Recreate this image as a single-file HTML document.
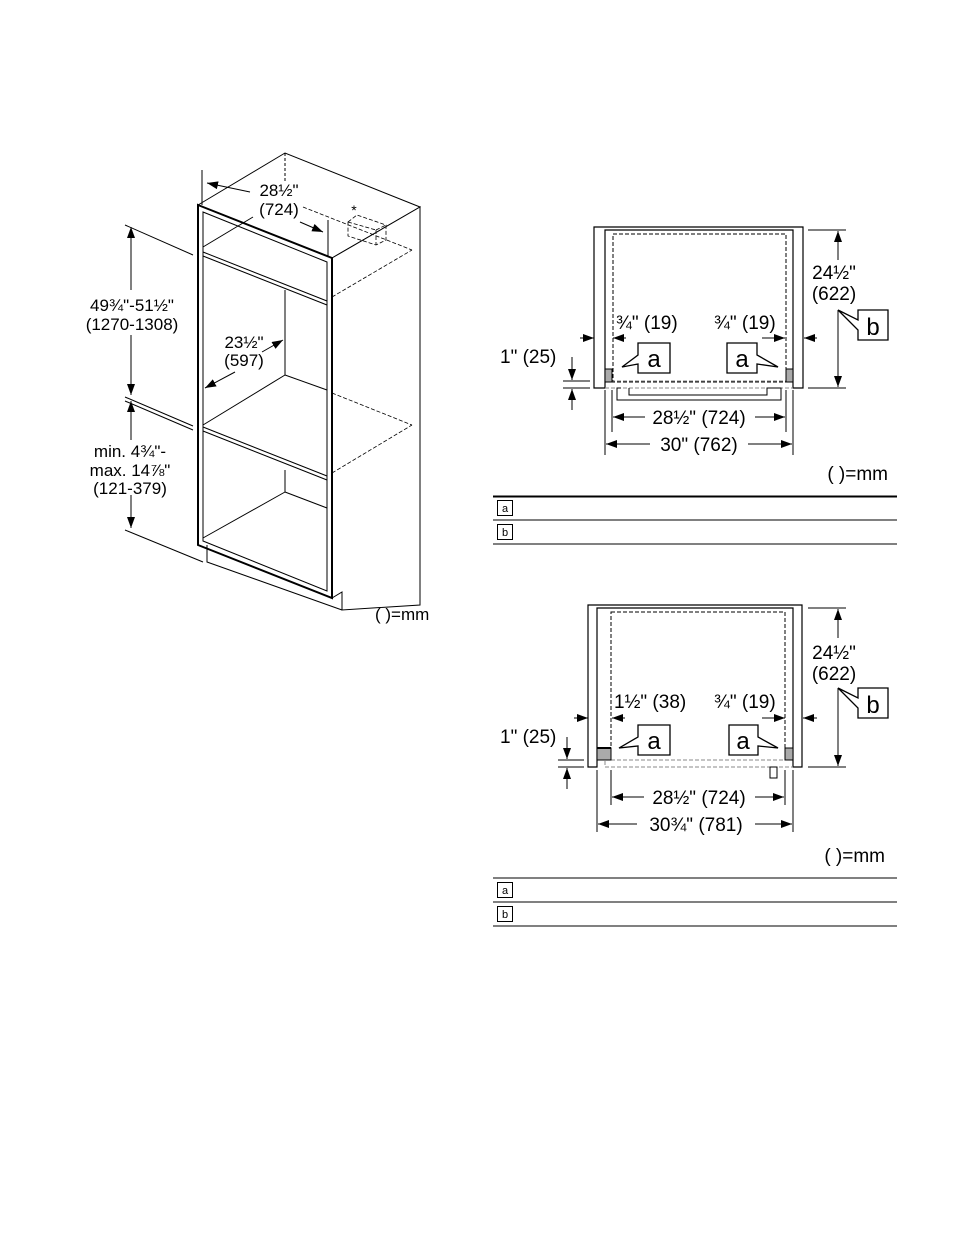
<!DOCTYPE html>
<html><head><meta charset="utf-8"><style>
html,body{margin:0;padding:0;background:#fff}
svg{display:block}
text{font-family:"Liberation Sans",sans-serif;fill:#000}
</style></head><body>
<svg width="954" height="1235" viewBox="0 0 954 1235" xmlns="http://www.w3.org/2000/svg">
<defs>
<marker id="ar" viewBox="0 0 11 8" refX="11" refY="4" markerWidth="11" markerHeight="8" markerUnits="userSpaceOnUse" orient="auto"><path d="M0,0 L11,4 L0,8 z" fill="#000"/></marker>
</defs>
<g fill="none" stroke="#000" stroke-width="1">
<!-- LEFT CABINET -->
<polygon points="198,205 285,153 420,207 332,258" fill="#fff"/>
<polygon points="332,258 420,207 420,605 342,610 342,592 332,598" fill="#fff"/>
<polygon points="198,205 332,258 332,598 198,545" stroke-width="2"/>
<polygon points="203,212 327,262 327,591 203,541"/>
<polyline points="207,545 207,562 342,610"/>
<line x1="285" y1="153" x2="285" y2="183" stroke-dasharray="3,2"/>
<line x1="203" y1="252" x2="327" y2="301"/><line x1="203" y1="256" x2="327" y2="305"/>
<line x1="203" y1="427" x2="327" y2="476"/><line x1="203" y1="431" x2="327" y2="480"/>
<line x1="203" y1="247" x2="253" y2="217"/>
<line x1="285" y1="290" x2="285" y2="375"/>
<line x1="203" y1="425" x2="285" y2="375"/><line x1="285" y1="375" x2="327" y2="390"/>
<line x1="285" y1="470" x2="285" y2="492"/>
<line x1="203" y1="538" x2="285" y2="492"/><line x1="285" y1="492" x2="327" y2="508"/>
<g stroke-dasharray="4,2" stroke-width="0.8">
<line x1="332" y1="297" x2="412" y2="250"/>
<line x1="303" y1="207" x2="412" y2="250"/>
<line x1="332" y1="393" x2="412" y2="425"/>
<line x1="332" y1="473" x2="412" y2="425"/>
<polygon points="348,222 357,215 386,225 386,240 376,245 348,236"/>
<line x1="348" y1="222" x2="376" y2="230"/><line x1="376" y1="230" x2="386" y2="225"/><line x1="376" y1="230" x2="376" y2="245"/>
</g>
<line x1="202" y1="170" x2="202" y2="205"/>
<line x1="328" y1="220" x2="328" y2="257"/>
<line x1="250" y1="192" x2="207" y2="183" marker-end="url(#ar)"/>
<line x1="300" y1="222" x2="323" y2="232" marker-end="url(#ar)"/>
<line x1="125" y1="225" x2="193" y2="255"/>
<line x1="125" y1="397" x2="193" y2="426"/><line x1="125" y1="401" x2="193" y2="430"/>
<line x1="125" y1="530" x2="203" y2="562"/>
<line x1="131" y1="290" x2="131" y2="227" marker-end="url(#ar)"/>
<line x1="131" y1="335" x2="131" y2="395" marker-end="url(#ar)"/>
<line x1="131" y1="440" x2="131" y2="401" marker-end="url(#ar)"/>
<line x1="131" y1="495" x2="131" y2="528" marker-end="url(#ar)"/>
<line x1="235" y1="372" x2="205" y2="388" marker-end="url(#ar)"/>
<line x1="262" y1="352" x2="283" y2="340" marker-end="url(#ar)"/>
</g>
<g font-size="17" text-anchor="middle">
<text x="279" y="196">28½"</text><text x="279" y="215">(724)</text>
<text x="132" y="311">49¾"-51½"</text><text x="132" y="330">(1270-1308)</text>
<text x="244" y="348">23½"</text><text x="244" y="366">(597)</text>
<text x="130" y="457">min. 4¾"-</text><text x="130" y="476">max. 14⅞"</text><text x="130" y="494">(121-379)</text>
<text x="354" y="215" font-size="14">*</text>
<text x="375" y="620" text-anchor="start">( )=mm</text>
</g>

<!-- RIGHT TOP -->
<g fill="none" stroke="#000" stroke-width="1">
<path d="M594,388 L594,227 L803,227 L803,388 L793,388 L793,230 L605,230 L605,388 Z" stroke-width="1.2"/>
<rect x="613" y="234" width="173" height="148" stroke-dasharray="4,2"/>
<line x1="605" y1="381" x2="793" y2="381" stroke="#888" stroke-dasharray="4,2"/>
<line x1="605" y1="388" x2="793" y2="388" stroke="#888" stroke-dasharray="4,2"/>
<rect x="605" y="369" width="7" height="13" fill="#aaa"/>
<rect x="786" y="369" width="7" height="13" fill="#aaa"/>
<polyline points="621,388 617,388 617,400 781,400 781,388 767,388 767,395 629,395 629,388"/>
<line x1="605" y1="390" x2="605" y2="455"/><line x1="793" y1="390" x2="793" y2="455"/>
<line x1="612" y1="390" x2="612" y2="432"/><line x1="786" y1="390" x2="786" y2="432"/>
<line x1="645" y1="417" x2="613" y2="417" marker-end="url(#ar)"/><line x1="755" y1="417" x2="785" y2="417" marker-end="url(#ar)"/>
<line x1="650" y1="444" x2="606" y2="444" marker-end="url(#ar)"/><line x1="748" y1="444" x2="792" y2="444" marker-end="url(#ar)"/>
<line x1="808" y1="230" x2="846" y2="230"/><line x1="808" y1="388" x2="846" y2="388"/>
<line x1="838" y1="260" x2="838" y2="231" marker-end="url(#ar)"/><line x1="838" y1="310" x2="838" y2="387" marker-end="url(#ar)"/>
<line x1="580" y1="338" x2="594" y2="338" marker-end="url(#ar)"/><line x1="626" y1="338" x2="613" y2="338" marker-end="url(#ar)"/>
<line x1="762" y1="338" x2="785" y2="338" marker-end="url(#ar)"/><line x1="817" y1="338" x2="804" y2="338" marker-end="url(#ar)"/>
<line x1="563" y1="381" x2="590" y2="381"/><line x1="563" y1="388" x2="590" y2="388"/>
<line x1="572" y1="357" x2="572" y2="380" marker-end="url(#ar)"/><line x1="572" y1="410" x2="572" y2="389" marker-end="url(#ar)"/>
<path d="M638,343 L670,343 L670,373 L638,373 L638,364 L622,367 L638,355 Z" fill="#fff" stroke-width="1.3"/>
<path d="M727,343 L757,343 L757,355 L778,367 L757,364 L757,373 L727,373 Z" fill="#fff" stroke-width="1.3"/>
<path d="M858,310 L888,310 L888,340 L858,340 L858,330 L838,310 L858,320 Z" fill="#fff" stroke-width="1.3"/>
<line x1="493" y1="496.5" x2="897" y2="496.5" stroke-width="2"/>
<line x1="493" y1="520" x2="897" y2="520"/><line x1="493" y1="544" x2="897" y2="544"/>
<rect x="497.5" y="500.5" width="15" height="15"/><rect x="497.5" y="524.5" width="15" height="15"/>
</g>
<g font-size="19">
<text x="654" y="367" font-size="24" text-anchor="middle">a</text>
<text x="742" y="367" font-size="24" text-anchor="middle">a</text>
<text x="873" y="335" font-size="24" text-anchor="middle">b</text>
<text x="616" y="329">¾" (19)</text><text x="714" y="329">¾" (19)</text>
<text x="500" y="363">1" (25)</text>
<text x="699" y="424" text-anchor="middle">28½" (724)</text>
<text x="699" y="451" text-anchor="middle">30" (762)</text>
<text x="834" y="279" text-anchor="middle">24½"</text><text x="834" y="300" text-anchor="middle">(622)</text>
<text x="888" y="480" text-anchor="end">( )=mm</text>
<text x="502" y="512" font-size="11">a</text><text x="502" y="536" font-size="11">b</text>
</g>

<!-- RIGHT BOTTOM -->
<g fill="none" stroke="#000" stroke-width="1">
<path d="M588,767 L588,605 L802,605 L802,767 L793,767 L793,608 L597,608 L597,767 Z" stroke-width="1.2"/>
<rect x="611" y="612" width="174" height="148" stroke-dasharray="4,2"/>
<line x1="611" y1="760" x2="785" y2="760" stroke="#888" stroke-dasharray="4,2"/>
<polyline points="605,761 605,767 793,767" stroke="#888" stroke-dasharray="4,2"/>
<rect x="597" y="748" width="14" height="12" fill="#aaa"/><line x1="597" y1="748" x2="611" y2="748" stroke-width="2"/>
<rect x="785" y="748" width="8" height="12" fill="#aaa"/>
<rect x="770" y="767" width="7" height="11"/>
<line x1="597" y1="770" x2="597" y2="832"/><line x1="793" y1="770" x2="793" y2="832"/>
<line x1="611" y1="770" x2="611" y2="805"/><line x1="785" y1="770" x2="785" y2="805"/>
<line x1="644" y1="797" x2="612" y2="797" marker-end="url(#ar)"/><line x1="755" y1="797" x2="784" y2="797" marker-end="url(#ar)"/>
<line x1="637" y1="824" x2="598" y2="824" marker-end="url(#ar)"/><line x1="755" y1="824" x2="792" y2="824" marker-end="url(#ar)"/>
<line x1="808" y1="608" x2="846" y2="608"/><line x1="808" y1="767" x2="846" y2="767"/>
<line x1="838" y1="638" x2="838" y2="609" marker-end="url(#ar)"/><line x1="838" y1="688" x2="838" y2="766" marker-end="url(#ar)"/>
<line x1="574" y1="718" x2="588" y2="718" marker-end="url(#ar)"/><line x1="625" y1="718" x2="612" y2="718" marker-end="url(#ar)"/>
<line x1="762" y1="718" x2="785" y2="718" marker-end="url(#ar)"/><line x1="817" y1="718" x2="803" y2="718" marker-end="url(#ar)"/>
<line x1="558" y1="760" x2="584" y2="760"/><line x1="558" y1="767" x2="584" y2="767"/>
<line x1="567" y1="737" x2="567" y2="759" marker-end="url(#ar)"/><line x1="567" y1="789" x2="567" y2="768" marker-end="url(#ar)"/>
<path d="M638,725 L670,725 L670,755 L638,755 L638,746 L619,748 L638,737 Z" fill="#fff" stroke-width="1.3"/>
<path d="M729,725 L758,725 L758,737 L778,748 L758,746 L758,755 L729,755 Z" fill="#fff" stroke-width="1.3"/>
<path d="M858,688 L888,688 L888,718 L858,718 L858,708 L838,688 L858,698 Z" fill="#fff" stroke-width="1.3"/>
<line x1="493" y1="878" x2="897" y2="878"/>
<line x1="493" y1="902" x2="897" y2="902"/><line x1="493" y1="926" x2="897" y2="926"/>
<rect x="497.5" y="882.5" width="15" height="15"/><rect x="497.5" y="906.5" width="15" height="15"/>
</g>
<g font-size="19">
<text x="654" y="749" font-size="24" text-anchor="middle">a</text>
<text x="743" y="749" font-size="24" text-anchor="middle">a</text>
<text x="873" y="713" font-size="24" text-anchor="middle">b</text>
<text x="614" y="708">1½" (38)</text><text x="714" y="708">¾" (19)</text>
<text x="500" y="743">1" (25)</text>
<text x="699" y="804" text-anchor="middle">28½" (724)</text>
<text x="696" y="831" text-anchor="middle">30¾" (781)</text>
<text x="834" y="659" text-anchor="middle">24½"</text><text x="834" y="680" text-anchor="middle">(622)</text>
<text x="885" y="862" text-anchor="end">( )=mm</text>
<text x="502" y="894" font-size="11">a</text><text x="502" y="918" font-size="11">b</text>
</g>
</svg>
</body></html>
